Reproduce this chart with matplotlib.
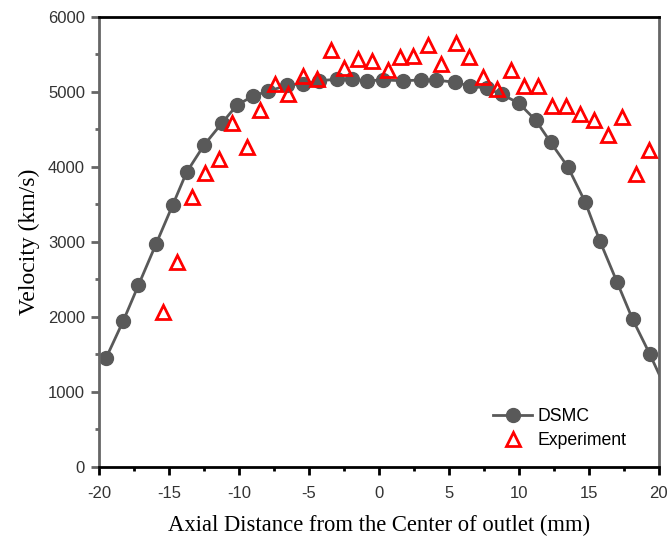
import matplotlib.pyplot as plt
from matplotlib.ticker import MultipleLocator

# DSMC simulation
dsmc_x = [-19.5, -18.26, -17.19, -15.93, -14.74, -13.74, -12.5, -11.24, -10.17, -8.98,
          -7.9, -6.55, -5.45, -4.26, -3.02, -1.9, -0.88, 0.31, 1.74, 2.98,
          4.05, 5.43, 6.5, 7.69, 8.76, 10.0, 11.21, 12.26, 13.5, 14.74,
          15.79, 17.02, 18.12, 19.36, 20.6]
dsmc_v = [1450, 1950, 2420, 2970, 3490, 3930, 4290, 4580, 4820, 4950,
          5010, 5090, 5110, 5150, 5170, 5170, 5150, 5160, 5150, 5160,
          5160, 5130, 5080, 5050, 4970, 4850, 4620, 4330, 4000, 3530,
          3010, 2460, 1970, 1500, 1000]

# Experiment
exp_x = [-15.41, -14.4, -13.38, -12.43, -11.41, -10.48, -9.45, -8.5, -7.43, -6.48,
         -5.45, -4.45, -3.45, -2.48, -1.48, -0.52, 0.64, 1.5, 2.45, 3.48,
         4.43, 5.48, 6.43, 7.45, 8.4, 9.4, 10.38, 11.38, 12.38, 13.36,
         14.36, 15.36, 16.34, 17.34, 18.33, 19.31]
exp_v = [2070, 2730, 3600, 3920, 4100, 4590, 4260, 4760, 5100, 4970,
         5210, 5170, 5560, 5320, 5440, 5410, 5290, 5470, 5480, 5630,
         5370, 5650, 5460, 5200, 5040, 5290, 5080, 5080, 4810, 4810,
         4710, 4630, 4430, 4660, 3900, 4220]

plt.rcParams['font.family'] = ['Liberation Sans', 'DejaVu Sans']
plt.rcParams['axes.unicode_minus'] = False

fig = plt.figure(figsize=(6.71, 5.43), dpi=100)
ax = fig.add_axes([0.1475, 0.14, 0.8345, 0.8287])

gray = '#595959'
ax.plot(dsmc_x, dsmc_v, '-o', color=gray, lw=2, ms=10, label='DSMC', zorder=2)
ax.plot(exp_x, exp_v, '^', mfc='none', mec='#ff0000', mew=2, ms=10,
        label='Experiment', zorder=3)

ax.set_xlim(-20, 20)
ax.set_ylim(0, 6000)
ax.xaxis.set_major_locator(MultipleLocator(5))
ax.xaxis.set_minor_locator(MultipleLocator(2.5))
ax.yaxis.set_major_locator(MultipleLocator(1000))
ax.yaxis.set_minor_locator(MultipleLocator(500))

for s in ['top', 'bottom']:
    ax.spines[s].set_color('black')
    ax.spines[s].set_linewidth(2)
for s in ['left', 'right']:
    ax.spines[s].set_color('#666666')
    ax.spines[s].set_linewidth(2)

ax.tick_params(axis='x', which='major', direction='out', length=6, width=2,
               color='black', labelsize=12, pad=8, labelcolor='#333333')
ax.tick_params(axis='x', which='minor', direction='out', length=3, width=2,
               color='black')
ax.tick_params(axis='y', which='major', direction='out', length=6, width=2,
               color='#666666', labelsize=12, pad=4, labelcolor='#333333')
ax.tick_params(axis='y', which='minor', direction='out', length=3, width=2,
               color='#666666')

ax.set_xlabel('Axial Distance from the Center of outlet (mm)',
              family='Liberation Serif', fontsize=16.3, labelpad=10)
ax.set_ylabel('Velocity (km/s)', family='Liberation Serif', fontsize=17,
              labelpad=6)

ax.legend(loc='lower right', bbox_to_anchor=(0.97, 0.005), frameon=False,
          fontsize=12.7, handlelength=2.2, handletextpad=0.3, labelspacing=0.4)

fig.savefig('out.png', dpi=100)
